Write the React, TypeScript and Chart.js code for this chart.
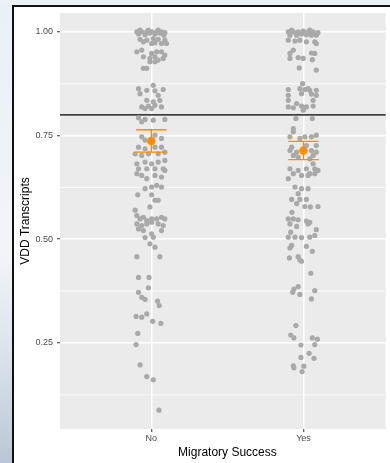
import React, { useEffect, useRef } from 'react';
import { Chart, registerables } from 'chart.js';

Chart.register(...registerables);

const categories = ['No', 'Yes'];
const yTickValues = [0.25, 0.5, 0.75, 1.0];
const yMinorValues = [0.125, 0.375, 0.625, 0.875];
const thresholdValue = 0.8;
const xTitle = 'Migratory Success';
const yTitle = 'VDD Transcripts';

// group "No": horizontal jitter offset (category units) and value
const noOffset = [
  -0.095, -0.063, -0.030, 0.002, 0.035, 0.067, 0.089, -0.084, -0.041, -0.009, 0.024, 0.056, 0.082,
  -0.074, -0.030, 0.013, 0.045, 0.089, -0.052, 0.002, 0.067, 0.100, 0.024, -0.074, -0.020, 0.045,
  -0.095, -0.063, 0.002, 0.035, 0.067, 0.089, -0.052, -0.009, 0.024, 0.078, -0.009, 0.024, 0.045,
  -0.052, -0.030,
  0.013, -0.084, -0.030, 0.024, 0.078, -0.074, 0.045, -0.030, 0.013, 0.056, -0.063, -0.019, 0.024,
  0.067, -0.041, 0.002, -0.084, -0.041, 0.013, 0.089, -0.063,
  -0.063, 0.024, 0.067, -0.041, -0.084, -0.041, 0.024, 0.067, -0.106, -0.063, -0.019, 0.045, 0.089,
  -0.041, 0.002, 0.045, 0.089, -0.095, -0.084, -0.030, 0.024, 0.078, 0.089, -0.095, -0.063, -0.030,
  0.024, 0.067, -0.041, 0.002, 0.035, 0.067, -0.089, 0.002, 0.024, 0.045, -0.009,
  -0.106, -0.095, -0.074, -0.052, -0.030, 0.002, 0.035, 0.067, 0.089, -0.095, -0.063, -0.030, 0.002,
  0.045, 0.078, -0.084, -0.052, 0.002, 0.067, -0.041, 0.013, -0.009, 0.024, -0.095, 0.056,
  -0.084, -0.015, -0.084, -0.019, -0.063, -0.041, 0.041, 0.052,
  -0.100, -0.063, -0.030, 0.009, 0.063, -0.089, -0.100, -0.074, -0.030, 0.013, 0.050,
];
const noValue = [
  1.000, 1.000, 1.000, 1.000, 1.000, 1.000, 0.998, 0.995, 0.993, 0.997, 0.995, 0.997, 0.992,
  0.982, 0.980, 0.984, 0.982, 0.980, 0.976, 0.972, 0.972, 0.972, 0.974, 1.004, 1.004, 1.004,
  0.952, 0.956, 0.948, 0.952, 0.952, 0.944, 0.940, 0.936, 0.940, 0.936, 0.928, 0.928, 0.932,
  0.912, 0.912,
  0.871, 0.863, 0.859, 0.858, 0.861, 0.851, 0.847, 0.835, 0.831, 0.835, 0.819, 0.821, 0.823,
  0.819, 0.815, 0.815, 0.793, 0.789, 0.787, 0.789, 0.783,
  0.747, 0.751, 0.743, 0.739, 0.722, 0.718, 0.722, 0.722, 0.706, 0.702, 0.706, 0.706, 0.710,
  0.686, 0.682, 0.686, 0.690, 0.682, 0.670, 0.670, 0.670, 0.670, 0.666, 0.658, 0.654, 0.646,
  0.654, 0.650, 0.622, 0.626, 0.630, 0.626, 0.607, 0.607, 0.594, 0.594, 0.578,
  0.570, 0.557, 0.549, 0.553, 0.545, 0.549, 0.549, 0.553, 0.549, 0.537, 0.533, 0.537, 0.541,
  0.537, 0.533, 0.525, 0.521, 0.513, 0.521, 0.504, 0.505, 0.489, 0.481, 0.458, 0.458,
  0.408, 0.408, 0.372, 0.383, 0.360, 0.355, 0.351, 0.340,
  0.314, 0.312, 0.320, 0.302, 0.297, 0.273, 0.246, 0.197, 0.169, 0.161, 0.088,
];

// group "Yes"
const yesOffset = [
  -0.100, -0.067, -0.035, -0.002, 0.030, 0.063, 0.095, -0.089, -0.045, -0.013, 0.019, 0.052, 0.084,
  -0.100, -0.056, -0.024, 0.074, 0.084, 0.019, -0.078, 0.041,
  -0.067, -0.089, 0.052, 0.074, -0.089, -0.035, -0.002, 0.058, -0.028, 0.084,
  -0.006, -0.100, -0.024, 0.009, 0.041, 0.084, 0.030, -0.100, -0.013, 0.052, 0.084, -0.100, -0.045,
  0.063, -0.100, -0.067, -0.013, 0.019, 0.063, -0.002, -0.050, 0.058, -0.067, -0.067,
  -0.089, -0.024, 0.009, 0.052, 0.084,
  -0.089, -0.045, 0.052, 0.084, -0.067, 0.063, 0.019, 0.084, -0.078, -0.035, 0.041, 0.063,
  -0.089, -0.035, 0.019, 0.074, -0.067, -0.013, 0.041, 0.095, -0.100, 0.030, 0.074,
  -0.056, -0.013, 0.030, -0.035, -0.078, -0.024, 0.019,
  -0.045, 0.009, 0.045, 0.095, -0.076, -0.100, -0.067, -0.035, 0.019, 0.041, -0.089, 0.030, -0.045,
  -0.084, 0.084, 0.074, -0.100, -0.056, -0.013, 0.041, -0.078, -0.089, 0.019, 0.058,
  -0.093, -0.035, -0.024, -0.013, 0.048, -0.035, -0.063, -0.071, -0.024, 0.074, 0.052,
  -0.050, -0.084, -0.063, 0.058, 0.091, 0.074, -0.017, 0.037, -0.017, 0.069, -0.067, -0.063, 0.002,
  -0.009,
];
const yesValue = [
  1.000, 1.000, 1.000, 1.002, 1.000, 1.000, 0.998, 0.992, 0.992, 0.995, 0.993, 0.992, 0.992,
  0.980, 0.978, 0.980, 0.976, 0.972, 0.976, 1.004, 1.004,
  0.956, 0.948, 0.949, 0.948, 0.936, 0.938, 0.936, 0.933, 0.913, 0.908,
  0.875, 0.861, 0.863, 0.861, 0.859, 0.859, 0.863, 0.847, 0.851, 0.850, 0.847, 0.835, 0.827,
  0.835, 0.819, 0.817, 0.821, 0.819, 0.821, 0.811, 0.791, 0.791, 0.767, 0.759,
  0.747, 0.743, 0.747, 0.747, 0.751,
  0.714, 0.710, 0.714, 0.710, 0.702, 0.702, 0.726, 0.726, 0.722, 0.698, 0.694, 0.682,
  0.670, 0.666, 0.670, 0.670, 0.658, 0.654, 0.658, 0.666, 0.646, 0.654, 0.658,
  0.626, 0.622, 0.622, 0.610, 0.596, 0.596, 0.596,
  0.586, 0.579, 0.578, 0.579, 0.565, 0.549, 0.549, 0.547, 0.544, 0.541, 0.537, 0.537, 0.531,
  0.517, 0.523, 0.509, 0.505, 0.505, 0.504, 0.505, 0.485, 0.479, 0.483, 0.471,
  0.455, 0.458, 0.450, 0.447, 0.418, 0.386, 0.380, 0.372, 0.367, 0.376, 0.356,
  0.292, 0.269, 0.262, 0.262, 0.259, 0.246, 0.245, 0.225, 0.215, 0.213, 0.195, 0.190, 0.194,
  0.181,
];

const meanValues = [0.737, 0.714];
const ciLow = [0.710, 0.692];
const ciHigh = [0.764, 0.736];

const FONT = "'Liberation Sans', Arial, sans-serif";

export default function App() {
  const ref = useRef<HTMLCanvasElement | null>(null);

  useEffect(() => {
    document.body.style.margin = '0';
    document.body.style.overflow = 'hidden';
    const canvas = ref.current;
    if (!canvas) return;

    const backgroundPlugin = {
      id: 'bgPanel',
      beforeDraw(chart: any) {
        const { ctx, width, height, chartArea } = chart;
        ctx.save();
        ctx.fillStyle = '#ffffff';
        ctx.fillRect(0, 0, width, height);
        // surrounding photo-like margin
        const g = ctx.createLinearGradient(0, 0, 0, height);
        g.addColorStop(0, '#e9f0f7');
        g.addColorStop(0.55, '#f2f5f8');
        g.addColorStop(0.8, '#d6dfe9');
        g.addColorStop(1, '#b8c6d5');
        ctx.fillStyle = g;
        ctx.fillRect(0, 0, 12, height);
        ctx.fillStyle = '#ebf1f7';
        ctx.fillRect(0, 0, width, 5);
        // frame
        ctx.fillStyle = '#111111';
        ctx.fillRect(12, 5, 2, height - 5);
        ctx.fillRect(12, 5, width - 12, 2);
        // panel
        ctx.fillStyle = '#EBEBEB';
        ctx.fillRect(chartArea.left, chartArea.top, chartArea.right - chartArea.left, chartArea.bottom - chartArea.top);
        ctx.restore();
      },
      beforeDatasetsDraw(chart: any) {
        const { ctx, chartArea, scales } = chart;
        ctx.save();
        ctx.strokeStyle = '#ffffff';
        ctx.lineWidth = 0.8;
        yMinorValues.forEach((v) => {
          const y = scales.y.getPixelForValue(v);
          ctx.beginPath();
          ctx.moveTo(chartArea.left, y);
          ctx.lineTo(chartArea.right, y);
          ctx.stroke();
        });
        const yt = scales.y.getPixelForValue(thresholdValue);
        ctx.strokeStyle = '#000000';
        ctx.lineWidth = 1.2;
        ctx.beginPath();
        ctx.moveTo(chartArea.left, yt);
        ctx.lineTo(chartArea.right, yt);
        ctx.stroke();
        ctx.restore();
      },
      afterDatasetsDraw(chart: any) {
        const { ctx, scales } = chart;
        ctx.save();
        ctx.strokeStyle = '#FF8C00';
        ctx.lineWidth = 1.3;
        meanValues.forEach((_, i) => {
          const xc = scales.x.getPixelForValue(i + 1);
          const xl = scales.x.getPixelForValue(i + 1 - 0.1);
          const xr = scales.x.getPixelForValue(i + 1 + 0.1);
          const yl = scales.y.getPixelForValue(ciLow[i]);
          const yh = scales.y.getPixelForValue(ciHigh[i]);
          ctx.beginPath();
          ctx.moveTo(xc, yl);
          ctx.lineTo(xc, yh);
          ctx.moveTo(xl, yl);
          ctx.lineTo(xr, yl);
          ctx.moveTo(xl, yh);
          ctx.lineTo(xr, yh);
          ctx.stroke();
        });
        ctx.restore();
      },
      afterDraw(chart: any) {
        const { ctx, scales } = chart;
        ctx.save();
        ctx.fillStyle = '#000000';
        ctx.font = `12px ${FONT}`;
        ctx.textAlign = 'center';
        ctx.textBaseline = 'alphabetic';
        ctx.fillText(xTitle, scales.x.getPixelForValue(1.5), 456);
        ctx.restore();
      },
    };

    const toPoints = (offs: number[], vals: number[], cat: number) =>
      vals.map((v, i) => ({ x: cat + offs[i], y: v }));

    const chart = new Chart(canvas, {
      type: 'scatter',
      data: {
        datasets: [
          {
            label: categories[0],
            data: toPoints(noOffset, noValue, 1),
            backgroundColor: '#A9A9A9',
            borderWidth: 0,
            pointRadius: 2.6,
          },
          {
            label: categories[1],
            data: toPoints(yesOffset, yesValue, 2),
            backgroundColor: '#A9A9A9',
            borderWidth: 0,
            pointRadius: 2.6,
          },
          {
            label: 'mean',
            data: meanValues.map((m, i) => ({ x: i + 1, y: m })),
            backgroundColor: '#FF8C00',
            borderWidth: 0,
            pointRadius: 4.3,
          },
        ],
      },
      options: {
        responsive: false,
        animation: false,
        events: [],
        layout: { padding: { left: 0, top: 13, right: 0, bottom: 0 } },
        plugins: { legend: { display: false }, tooltip: { enabled: false } },
        scales: {
          x: {
            type: 'linear',
            min: 0.4,
            max: 2.54,
            afterBuildTicks: (s: any) => {
              s.ticks = categories.map((_, i) => ({ value: i + 1 }));
            },
            afterFit: (s: any) => {
              s.height = 34;
            },
            ticks: {
              callback: (v: any) => categories[Math.round(v) - 1] ?? '',
              font: { family: FONT, size: 9 },
              color: '#4D4D4D',
              padding: 1,
              maxRotation: 0,
              autoSkip: false,
            },
            grid: { color: '#ffffff', lineWidth: 1.5, tickColor: '#333333', tickLength: 3, tickWidth: 1 },
            border: { display: false },
          },
          y: {
            type: 'linear',
            min: 0.0425,
            max: 1.0455,
            afterBuildTicks: (s: any) => {
              s.ticks = yTickValues.map((v) => ({ value: v }));
            },
            afterFit: (s: any) => {
              s.width = 60;
            },
            ticks: {
              callback: (v: any) => Number(v).toFixed(2),
              font: { family: FONT, size: 9 },
              color: '#4D4D4D',
              padding: 4,
            },
            title: {
              display: true,
              text: yTitle,
              color: '#000000',
              font: { family: FONT, size: 12 },
              padding: { top: 18, bottom: 0 },
            },
            grid: { color: '#ffffff', lineWidth: 1.5, tickColor: '#333333', tickLength: 3, tickWidth: 1 },
            border: { display: false },
          },
        },
      },
      plugins: [backgroundPlugin],
    });

    return () => chart.destroy();
  }, []);

  return <canvas ref={ref} width={390} height={463} style={{ display: 'block' }} />;
}
